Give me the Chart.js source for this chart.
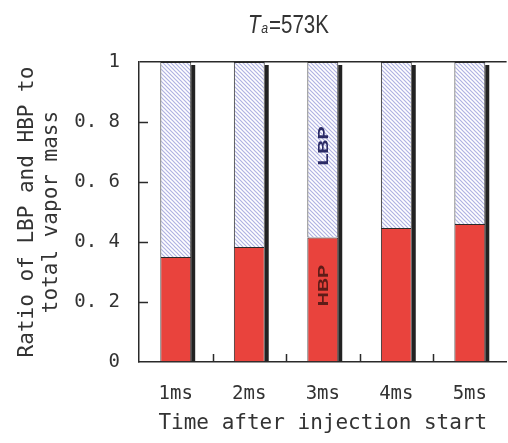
<!DOCTYPE html>
<html>
<head>
<meta charset="utf-8">
<script src="https://cdn.jsdelivr.net/npm/chart.js@4"></script>
<style>
  html, body { margin: 0; padding: 0; background: #fff; }
  #wrap { width: 508px; height: 443px; }
</style>
</head>
<body>
<div id="wrap"><canvas id="chart"></canvas></div>
<script>
// Data
const times = ['1ms', '2ms', '3ms', '4ms', '5ms'];
const hbpRatio = [0.35, 0.383, 0.415, 0.447, 0.46];
const lbpRatio = [0.65, 0.617, 0.585, 0.553, 0.54];
const yTicks = [0, 0.2, 0.4, 0.6, 0.8, 1];

const ink = '#2a2a2a';
const mono = 'DejaVu Sans Mono';

// Hatched fill for the LBP part (thin lavender "\" lines on white)
function makeHatch() {
  const p = document.createElement('canvas');
  p.width = 4; p.height = 4;
  const c = p.getContext('2d');
  c.fillStyle = '#ffffff';
  c.fillRect(0, 0, 4, 4);
  c.strokeStyle = '#b0b2e2';
  c.lineWidth = 1.2;
  c.beginPath();
  c.moveTo(-1, -1); c.lineTo(5, 5);
  c.moveTo(-1, 3); c.lineTo(1, 5);
  c.moveTo(3, -1); c.lineTo(5, 1);
  c.stroke();
  return c.createPattern(p, 'repeat');
}

// Title "Ta=573K" with italic T and subscript a
const titlePlugin = {
  id: 'titleText',
  afterDraw(chart) {
    const ctx = chart.ctx;
    ctx.save();
    ctx.fillStyle = '#333';
    ctx.textBaseline = 'alphabetic';
    ctx.translate(248, 33);
    ctx.scale(0.82, 1);
    ctx.font = 'italic 25px "Liberation Sans"';
    ctx.fillText('T', 0, 0);
    let x = ctx.measureText('T').width + 1;
    ctx.font = 'italic 15px "Liberation Sans"';
    ctx.fillText('a', x, 0);
    x += ctx.measureText('a').width + 1;
    ctx.font = '25px "Liberation Sans"';
    ctx.fillText('=573K', x, 0);
    ctx.restore();
  }
};

// Inward tick marks, bar shadows and the LBP / HBP labels
const decorPlugin = {
  id: 'decor',
  afterDatasetsDraw(chart) {
    const ctx = chart.ctx;
    const xs = chart.scales.x, ys = chart.scales.y;
    const area = chart.chartArea;
    const hbpMeta = chart.getDatasetMeta(0);
    const lbpMeta = chart.getDatasetMeta(1);

    ctx.save();
    // dark shadow on the right of every bar
    ctx.fillStyle = '#222';
    lbpMeta.data.forEach((top, i) => {
      const right = top.x + top.width / 2;
      const y0 = top.y + 3;
      const y1 = hbpMeta.data[i].base;
      ctx.fillRect(right, y0, 4, y1 - y0);
    });

    ctx.strokeStyle = ink;
    ctx.lineWidth = 1.5;
    ctx.beginPath();
    yTicks.slice(1, -1).forEach(v => {
      const y = Math.round(ys.getPixelForValue(v)) + 0.5;
      ctx.moveTo(area.left, y);
      ctx.lineTo(area.left + 9, y);
    });
    for (let i = 0; i < times.length - 1; i++) {
      const x = Math.round((xs.getPixelForTick(i) + xs.getPixelForTick(i + 1)) / 2) + 0.5;
      ctx.moveTo(x, area.bottom);
      ctx.lineTo(x, area.bottom - 8);
    }
    ctx.stroke();

    // in-bar labels on the 3ms bar
    const bar = lbpMeta.data[2];
    const drawLabel = (text, value, color) => {
      ctx.save();
      ctx.translate(bar.x + 1, ys.getPixelForValue(value));
      ctx.rotate(-Math.PI / 2);
      ctx.scale(1.4, 1);
      ctx.font = 'bold 14px "Liberation Sans"';
      ctx.fillStyle = color;
      ctx.textAlign = 'center';
      ctx.textBaseline = 'middle';
      ctx.fillText(text, 0, 0);
      ctx.restore();
    };
    drawLabel('LBP', 0.72, '#2b2b66');
    drawLabel('HBP', 0.255, '#5e1c18');
    ctx.restore();
  }
};

const hatch = makeHatch();

new Chart(document.getElementById('chart'), {
  type: 'bar',
  data: {
    labels: times,
    datasets: [
      {
        label: 'HBP',
        data: hbpRatio,
        backgroundColor: '#e9433d',
        borderColor: ink,
        borderWidth: 1,
        borderSkipped: 'start',
        barPercentage: 0.42,
        categoryPercentage: 1
      },
      {
        label: 'LBP',
        data: lbpRatio,
        backgroundColor: hatch,
        borderColor: ink,
        borderWidth: 1,
        borderSkipped: 'start',
        barPercentage: 0.42,
        categoryPercentage: 1
      }
    ]
  },
  options: {
    responsive: true,
    maintainAspectRatio: false,
    animation: false,
    layout: { padding: { top: 62, right: 0, left: 0, bottom: 0 } },
    plugins: {
      legend: { display: false },
      tooltip: { enabled: false },
      title: { display: false }
    },
    scales: {
      x: {
        stacked: true,
        grid: { display: false, drawTicks: false },
        border: { display: true, color: ink, width: 1.5 },
        ticks: {
          color: '#333',
          padding: 21,
          font: { family: mono, size: 19 }
        },
        title: {
          display: true,
          text: 'Time after injection start',
          color: '#333',
          padding: { top: 0, bottom: 7 },
          font: { family: mono, size: 21 }
        },
        afterFit(scale) { scale.height = 81; }
      },
      y: {
        stacked: true,
        min: 0,
        max: 1,
        grid: {
          drawTicks: false,
          color: ctx => (ctx.tick && ctx.tick.value === 1 ? ink : 'rgba(0,0,0,0)'),
          lineWidth: 1.5
        },
        border: { display: true, color: ink, width: 1.5 },
        ticks: {
          stepSize: 0.2,
          color: '#333',
          padding: 19,
          font: { family: mono, size: 19 },
          callback: v => (v === 0 ? '0' : v === 1 ? '1' : v.toFixed(1).replace('.', '. '))
        },
        title: {
          display: true,
          text: ['Ratio of LBP and HBP to', 'total vapor mass'],
          color: '#333',
          padding: { top: 16, bottom: 0 },
          font: { family: mono, size: 21, lineHeight: 1.14 }
        },
        afterFit(scale) { scale.width = 139; }
      }
    }
  },
  plugins: [titlePlugin, decorPlugin]
});
</script>
</body>
</html>
